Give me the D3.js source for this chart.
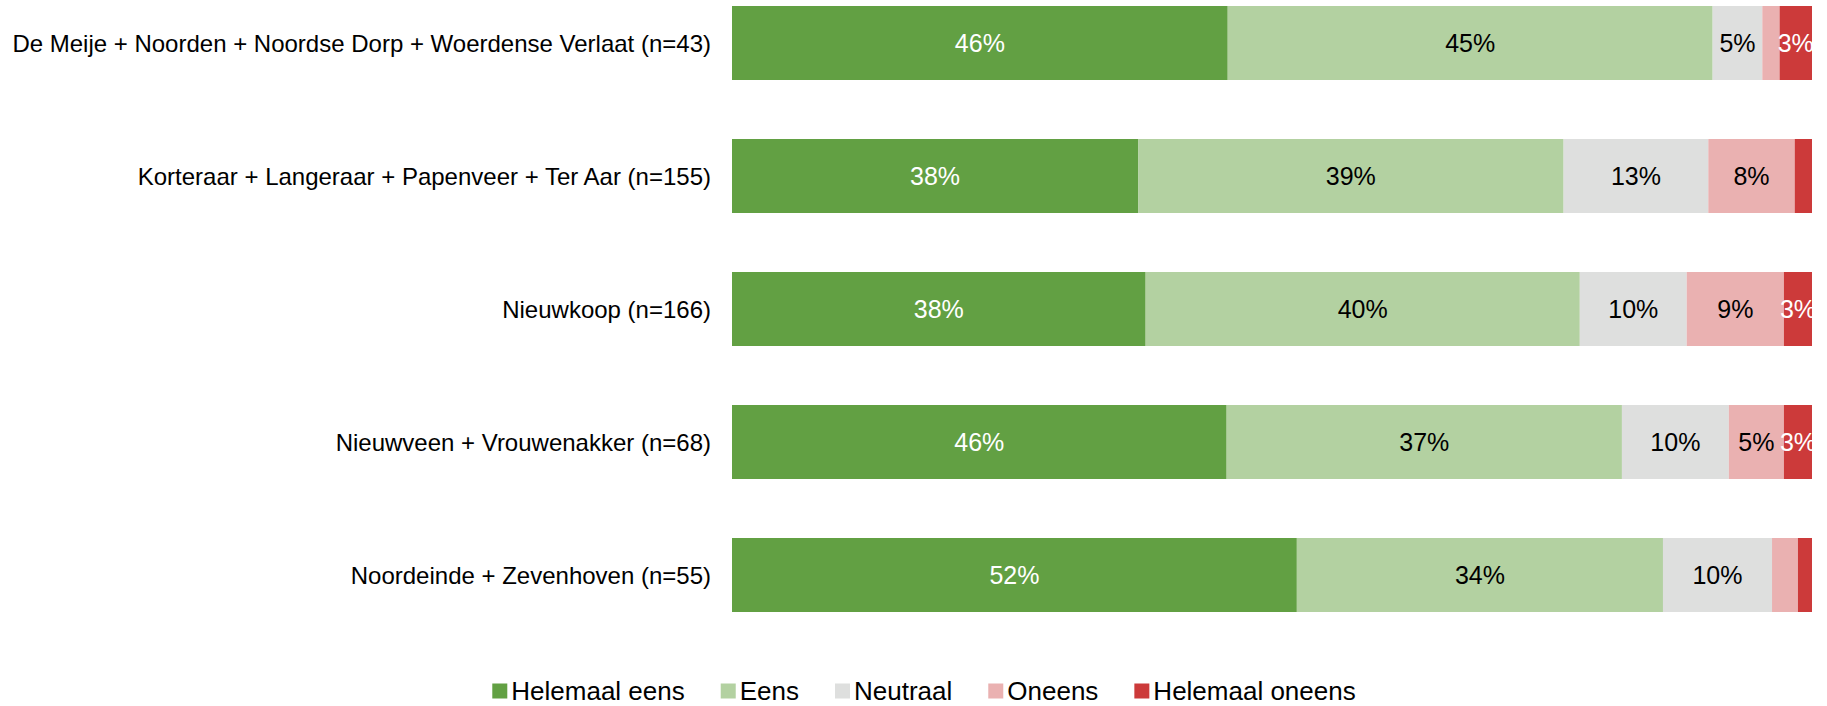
<!DOCTYPE html>
<html>
<head>
<meta charset="utf-8">
<script src="https://cdn.jsdelivr.net/npm/d3@7"></script>
<style>
  html, body { margin: 0; padding: 0; background: #ffffff; }
  svg { display: block; font-family: "Liberation Sans", Arial, sans-serif; }
</style>
</head>
<body>
<svg id="chart" width="1827" height="706"></svg>
<script>
const categories = [
  "De Meije + Noorden + Noordse Dorp + Woerdense Verlaat (n=43)",
  "Korteraar + Langeraar + Papenveer + Ter Aar (n=155)",
  "Nieuwkoop (n=166)",
  "Nieuwveen + Vrouwenakker (n=68)",
  "Noordeinde + Zevenhoven (n=55)"
];
const seriesNames = ["Helemaal eens", "Eens", "Neutraal", "Oneens", "Helemaal oneens"];
const helemaalEens   = [45.9, 37.6, 38.3, 45.8, 52.3];
const eens           = [44.9, 39.4, 40.2, 36.6, 33.9];
const neutraal       = [4.6, 13.4, 9.9, 9.9, 10.1];
const oneens         = [1.6, 8.0, 9.0, 5.1, 2.4];
const helemaalOneens = [3.0, 1.6, 2.6, 2.6, 1.3];
const colors = ["#62a043", "#b3d1a1", "#dedfde", "#eab1b1", "#cc3a3a"];
const labelColors = ["#ffffff", "#000000", "#000000", "#000000", "#ffffff"];

const seriesValues = [helemaalEens, eens, neutraal, oneens, helemaalOneens];
const rows = categories.map((c, i) => {
  const r = { category: c };
  seriesNames.forEach((s, j) => r[s] = seriesValues[j][i]);
  return r;
});

const svg = d3.select("#chart");
const plot = { left: 732, right: 1812, top: 6, bottom: 612 };
const barH = 74;

const x = d3.scaleLinear().domain([0, 100]).range([plot.left, plot.right]);
const step = (plot.bottom - plot.top - barH) / (categories.length - 1);
const pad = (step - barH) / step;
const y = d3.scaleBand().domain(categories)
  .range([plot.top - (step - barH) / 2, plot.top - (step - barH) / 2 + step * categories.length])
  .paddingInner(pad).paddingOuter(pad / 2);

const stacked = d3.stack().keys(seriesNames)(rows);

svg.append("defs").append("clipPath").attr("id", "plotclip")
  .append("rect").attr("x", plot.left).attr("y", 0)
  .attr("width", plot.right - plot.left).attr("height", 706);

const g = svg.append("g");
const layers = g.selectAll("g.layer").data(stacked).join("g")
  .attr("class", "layer").attr("fill", (d, i) => colors[i]);

layers.selectAll("rect").data(d => d).join("rect")
  .attr("x", d => x(d[0]))
  .attr("y", d => y(d.data.category))
  .attr("width", d => x(d[1]) - x(d[0]))
  .attr("height", y.bandwidth());

const lg = svg.append("g").attr("clip-path", "url(#plotclip)");
stacked.forEach((layer, i) => {
  lg.selectAll(null).data(layer.filter(d => (d[1] - d[0]) >= 2.5)).join("text")
    .attr("x", d => (x(d[0]) + x(d[1])) / 2)
    .attr("y", d => y(d.data.category) + y.bandwidth() / 2)
    .attr("text-anchor", "middle")
    .attr("dominant-baseline", "central")
    .attr("font-size", 25)
    .attr("fill", labelColors[i])
    .text(d => Math.round(d[1] - d[0]) + "%");
});

// category labels
svg.append("g").selectAll("text").data(categories).join("text")
  .attr("x", plot.left - 21)
  .attr("y", d => y(d) + y.bandwidth() / 2)
  .attr("text-anchor", "end")
  .attr("dominant-baseline", "central")
  .attr("font-size", 24)
  .attr("fill", "#000")
  .text(d => d);

// legend
const legend = svg.append("g");
const items = legend.selectAll("g").data(seriesNames).join("g");
items.append("rect").attr("width", 15).attr("height", 15)
  .attr("y", -7.5).attr("fill", (d, i) => colors[i]);
items.append("text").attr("x", 19).attr("y", 0)
  .attr("dominant-baseline", "central")
  .attr("font-size", 26).attr("fill", "#000").text(d => d);
let cx = 0;
items.each(function () {
  const w = d3.select(this).select("text").node().getComputedTextLength();
  d3.select(this).attr("transform", `translate(${cx},0)`);
  cx += 19 + w + 36;
});
const totalW = cx - 36;
legend.attr("transform", `translate(${924 - totalW / 2},691)`);
</script>
</body>
</html>
